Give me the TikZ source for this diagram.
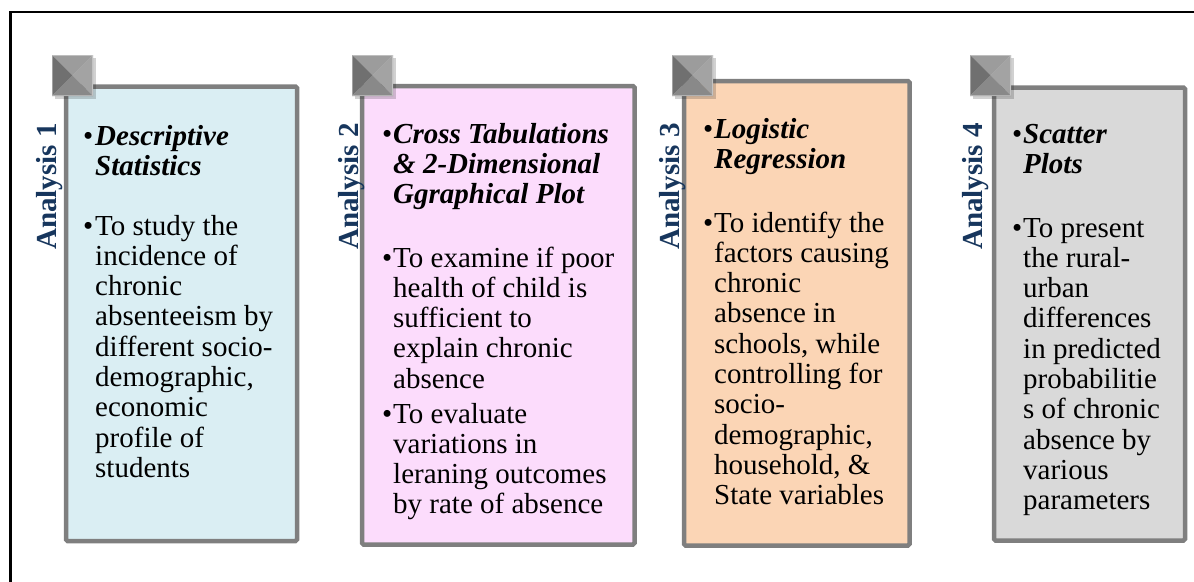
\documentclass[tikz,border=0pt]{standalone}
\usepackage{fontspec}
\setmainfont{Liberation Serif}
\definecolor{cA}{HTML}{DAEEF3}
\definecolor{cB}{HTML}{FCDCFC}
\definecolor{cC}{HTML}{FBD5B5}
\definecolor{cD}{HTML}{D9D9D9}
\definecolor{pgray}{HTML}{7F7F7F}
\definecolor{navy}{HTML}{17365D}
\definecolor{gTop}{HTML}{9C9C9C}
\definecolor{gLeft}{HTML}{707070}
\definecolor{gRight}{HTML}{A3A3A3}
\definecolor{gBot}{HTML}{898989}
\tikzset{
  txt/.style={anchor=base west, inner sep=0pt, font=\fontsize{29}{30}\selectfont},
  head/.style={txt, font=\fontsize{29}{30}\selectfont\bfseries\itshape},
  lab/.style={rotate=90, anchor=base west, inner sep=0pt, font=\fontsize{29}{30}\selectfont\bfseries, text=navy},
  panel/.style={draw=pgray, line width=4.5pt, rounded corners=1.5pt},
}
\newcommand\txtlines[5]{%
  \foreach \t [count=\i from 0] in {#5} {\node[#2] (#1\i) at (#3,{#4+30.3*\i}) {\t};}}
\newcommand\pyr[3]{%
  \begin{scope}[shift={(#2,#3)}]
    \fill[black, opacity=.18] (3,3) rectangle (44,44);
    \fill[gTop] (0,0) -- (41,0) -- (20.5,20.5) -- cycle;
    \fill[gLeft] (0,0) -- (0,41) -- (20.5,20.5) -- cycle;
    \fill[gRight] (41,0) -- (41,41) -- (20.5,20.5) -- cycle;
    \fill[gBot] (0,41) -- (41,41) -- (20.5,20.5) -- cycle;
    \draw[white, opacity=.35, line width=1pt] (0.5,0.5) rectangle (40.5,40.5);
    \coordinate (#1) at (20.5,20.5);
  \end{scope}}
\begin{document}
\begin{tikzpicture}[x=1pt,y=-1pt]
\useasboundingbox (0,0) rectangle (1194,581);
\begin{scope}
\clip (0,0) rectangle (1194,581);
\draw[black, line width=2.5pt] (10.5,12) rectangle (1210,600);
\end{scope}

% panels
\draw[panel, fill=cA] (66,86.5) rectangle (297,541);
\draw[panel, fill=cB] (362,86) rectangle (634.5,544.5);
\draw[panel, fill=cC] (684,81) rectangle (909.5,545.5);
\draw[panel, fill=cD] (994,87.5) rectangle (1185,540.5);

% pyramids
\pyr{q1}{52}{55}
\pyr{q2}{352}{55}
\pyr{q3}{672}{55}
\pyr{q4}{970}{55}

% labels
\node[lab] (l1) at (56,250) {Analysis 1};
\node[lab] (l2) at (358,250) {Analysis 2};
\node[lab] (l3) at (679,250) {Analysis 3};
\node[lab] (l4) at (982,250) {Analysis 4};

% box 1
\node[txt] (b1h) at (83,145) {•};
\txtlines{h1-}{head}{95}{145}{Descriptive,Statistics}
\node[txt] (b1b) at (83,235) {•};
\txtlines{t1-}{txt}{95}{235}{To study the,incidence of,chronic,absenteeism by,different socio-,{demographic,},economic,profile of,students}

% box 2
\node[txt] (b2h) at (382,143) {•};
\txtlines{h2-}{head}{393}{143}{Cross Tabulations,\& 2-Dimensional,Ggraphical Plot}
\node[txt] (b2b) at (382,267) {•};
\txtlines{t2-}{txt}{393}{267}{To examine if poor,health of child is,sufficient to,explain chronic,absence}
\node[txt] (b2c) at (382,423) {•};
\txtlines{u2-}{txt}{393}{423}{To evaluate,variations in,leraning outcomes,by rate of absence}

% box 3
\node[txt] (b3h) at (703,138) {•};
\txtlines{h3-}{head}{714}{138}{Logistic,Regression}
\node[txt] (b3b) at (703,232) {•};
\txtlines{t3-}{txt}{714}{232}{To identify the,factors causing,chronic,absence in,{schools, while},controlling for,socio-,{demographic,},{household, \&},State variables}

% box 4
\node[txt] (b4h) at (1012,143) {•};
\txtlines{h4-}{head}{1023}{143}{Scatter,Plots}
\node[txt] (b4b) at (1012,237) {•};
\txtlines{t4-}{txt}{1023}{237}{To present,the rural-,urban,differences,in predicted,probabilitie,s of chronic,absence by,various,parameters}
\end{tikzpicture}
\end{document}
